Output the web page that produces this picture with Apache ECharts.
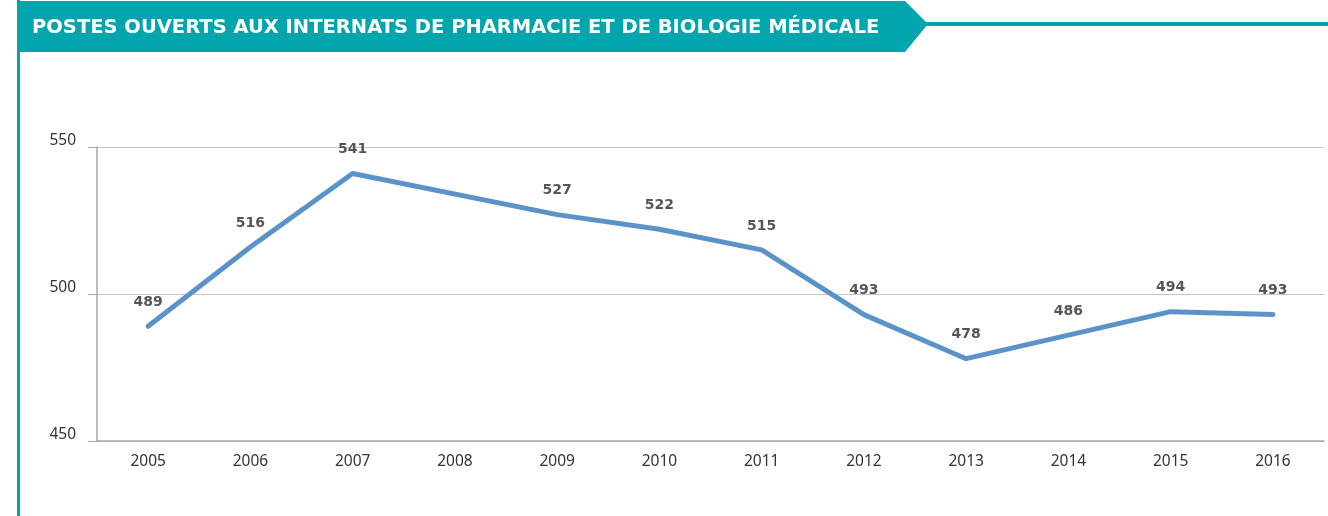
<!DOCTYPE html>
<html>
<head>
<meta charset="utf-8">
<script src="https://cdn.jsdelivr.net/npm/echarts@6/dist/echarts.min.js"></script>
<style>
  html, body { margin: 0; padding: 0; background: #fff; }
  #LineChart { width: 1328px; height: 516px; }
</style>
</head>
<body>
<div id="LineChart"></div>
<script>
// data
const years = ["2005", "2006", "2007", "2008", "2009", "2010", "2011", "2012", "2013", "2014", "2015", "2016"];
// 2008 has no label in the source, the line just runs through
const postes = [489, 516, 541, null, 527, 522, 515, 493, 478, 486, 494, 493];
const yTicks = [450, 500, 550];
const titleText = "POSTES OUVERTS AUX INTERNATS DE PHARMACIE ET DE BIOLOGIE MÉDICALE";

const teal = "#00A5AE";
const chart = echarts.init(document.getElementById("LineChart"));

const options = {
  animation: false,
  textStyle: { fontFamily: "'Noto Sans', sans-serif" },
  graphic: [
    // banner
    {
      type: "polygon",
      shape: { points: [[17, 1], [905, 1], [928, 24], [905, 52], [17, 52]] },
      style: { fill: teal },
    },
    {
      type: "rect",
      shape: { x: 920, y: 22, width: 408, height: 4 },
      style: { fill: teal },
    },
    {
      type: "rect",
      shape: { x: 17, y: 0, width: 3, height: 516 },
      style: { fill: teal },
    },
    {
      type: "text",
      left: 32,
      top: 18,
      style: {
        text: titleText,
        fill: "#fff",
        font: "bold 19.5px 'DejaVu Sans', sans-serif",
      },
    },
  ],
  grid: { left: 97, right: 4, top: 147, bottom: 75 },
  xAxis: {
    type: "category",
    data: years,
    boundaryGap: true,
    axisLine: { lineStyle: { color: "#a8a8a8", width: 1.5 } },
    axisTick: { inside: true, length: 4, lineStyle: { color: "#a8a8a8" } },
    axisLabel: { color: "#333", fontSize: 15.5, margin: 13 },
  },
  yAxis: {
    type: "value",
    min: yTicks[0],
    max: yTicks[yTicks.length - 1],
    interval: 50,
    axisLine: { show: true, lineStyle: { color: "#a8a8a8", width: 1.5 } },
    axisTick: { show: true, length: 9, lineStyle: { color: "#a8a8a8" } },
    axisLabel: {
      color: "#333",
      fontSize: 15.5,
      margin: 21,
      verticalAlign: "bottom",
      lineHeight: 12,
    },
    splitLine: { lineStyle: { color: "#c4c4c4" } },
  },
  series: [
    {
      name: "Postes",
      type: "line",
      data: postes,
      connectNulls: true,
      symbol: "circle",
      symbolSize: 2,
      showSymbol: true,
      itemStyle: { color: "rgba(0,0,0,0)" },
      lineStyle: { color: "#5B93C9", width: 5, cap: "round", join: "round" },
      label: {
        show: true,
        position: "top",
        distance: 16,
        color: "#555",
        fontWeight: "bold",
        fontSize: 14,
        fontFamily: "'DejaVu Sans', sans-serif",
      },
    },
  ],
};
chart.setOption(options);
</script>
</body>
</html>
